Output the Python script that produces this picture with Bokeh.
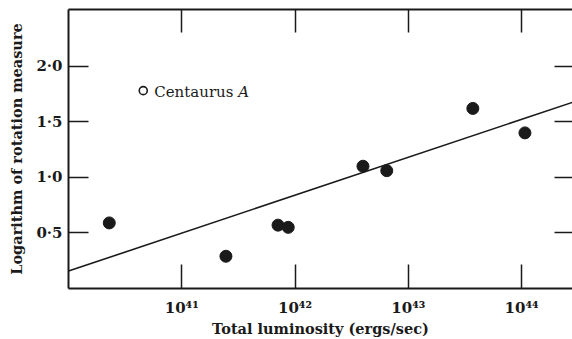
from bokeh.plotting import figure
from bokeh.models import Range1d, LinearAxis, FixedTicker
from bokeh.core.properties import value
from bokeh.embed import file_html
from bokeh.resources import INLINE

# log10 of total luminosity (ergs/sec) and log10 of rotation measure
lum_log = [40.36, 41.39, 41.85, 41.94, 42.60, 42.81, 43.57, 44.03]
rm_log = [0.59, 0.29, 0.57, 0.55, 1.10, 1.06, 1.62, 1.40]

cen_lum = [40.66]
cen_rm = [1.78]
cen_name = ["Centaurus"]
cen_suffix = ["A"]

fit_lum = [40.0, 44.45]
fit_rm = [0.157, 1.675]

x_ticks = [41, 42, 43, 44]
x_labels = ["10⁴¹", "10⁴²", "10⁴³", "10⁴⁴"]
y_ticks = [0.5, 1.0, 1.5, 2.0]
y_labels = ["0·5", "1·0", "1·5", "2·0"]

FONT = "DejaVu Serif"

p = figure(width=572, height=339, output_backend="svg", toolbar_location=None,
           x_range=Range1d(40.0, 44.45), y_range=Range1d(0.0, 2.51),
           min_border_left=68, min_border_top=9, min_border_bottom=49, min_border_right=0)
p.outline_line_color = None
p.grid.visible = False
p.background_fill_color = "white"

ink = "#1a1a1a"

xa = p.xaxis[0]
xa.ticker = FixedTicker(ticks=x_ticks)
xa.major_label_overrides = {t: l for t, l in zip(x_ticks, x_labels)}
xa.axis_label = "Total luminosity (ergs/sec)"
ya = p.yaxis[0]
ya.ticker = FixedTicker(ticks=y_ticks)
ya.major_label_overrides = {t: l for t, l in zip(y_ticks, y_labels)}
ya.axis_label = "Logarithm of rotation measure"

for ax, tin in ((xa, 24), (ya, 20)):
    ax.axis_line_width = 2
    ax.axis_line_color = ink
    ax.major_tick_in = tin
    ax.major_tick_out = 0
    ax.major_tick_line_width = 1.5
    ax.major_tick_line_color = ink
    ax.minor_tick_line_color = None
    ax.major_label_text_font = FONT
    ax.major_label_text_font_style = "bold"
    ax.major_label_text_font_size = "15px"
    ax.major_label_text_color = ink
    ax.axis_label_text_font = FONT
    ax.axis_label_text_font_style = "bold"
    ax.axis_label_text_font_size = "14.5px"
    ax.axis_label_text_color = ink
xa.major_label_standoff = 10
xa.axis_label_standoff = 0
ya.major_label_standoff = 6
ya.axis_label_standoff = 8

top = LinearAxis(ticker=FixedTicker(ticks=x_ticks), major_label_overrides={t: "" for t in x_ticks},
                 axis_line_width=2, axis_line_color=ink, major_tick_in=23, major_tick_out=0,
                 major_tick_line_width=1.5, major_tick_line_color=ink, minor_tick_line_color=None,
                 major_label_standoff=0, major_label_text_font_size="1px")
p.add_layout(top, "above")
right = LinearAxis(ticker=FixedTicker(ticks=y_ticks), major_label_overrides={t: "" for t in y_ticks},
                   axis_line_alpha=0, major_tick_in=18, major_tick_out=0,
                   major_tick_line_width=1.5, major_tick_line_color=ink, minor_tick_line_color=None,
                   major_label_standoff=0, major_label_text_font_size="1px")
p.add_layout(right, "right")

p.line(fit_lum, fit_rm, line_color=ink, line_width=1.6)
p.scatter(lum_log, rm_log, size=12, fill_color=ink, line_color=ink)
p.scatter(cen_lum, cen_rm, size=8, fill_color="white", line_color=ink, line_width=1.6)
p.text(cen_lum, cen_rm, text=cen_name, x_offset=11, y_offset=1, text_baseline="middle",
       text_font=value(FONT), text_font_size="15px", text_color=ink)
p.text(cen_lum, cen_rm, text=cen_suffix, x_offset=95, y_offset=1, text_baseline="middle",
       text_font=value(FONT), text_font_style="italic", text_font_size="15px", text_color=ink)

open("out.html", "w").write(file_html(p, INLINE))
